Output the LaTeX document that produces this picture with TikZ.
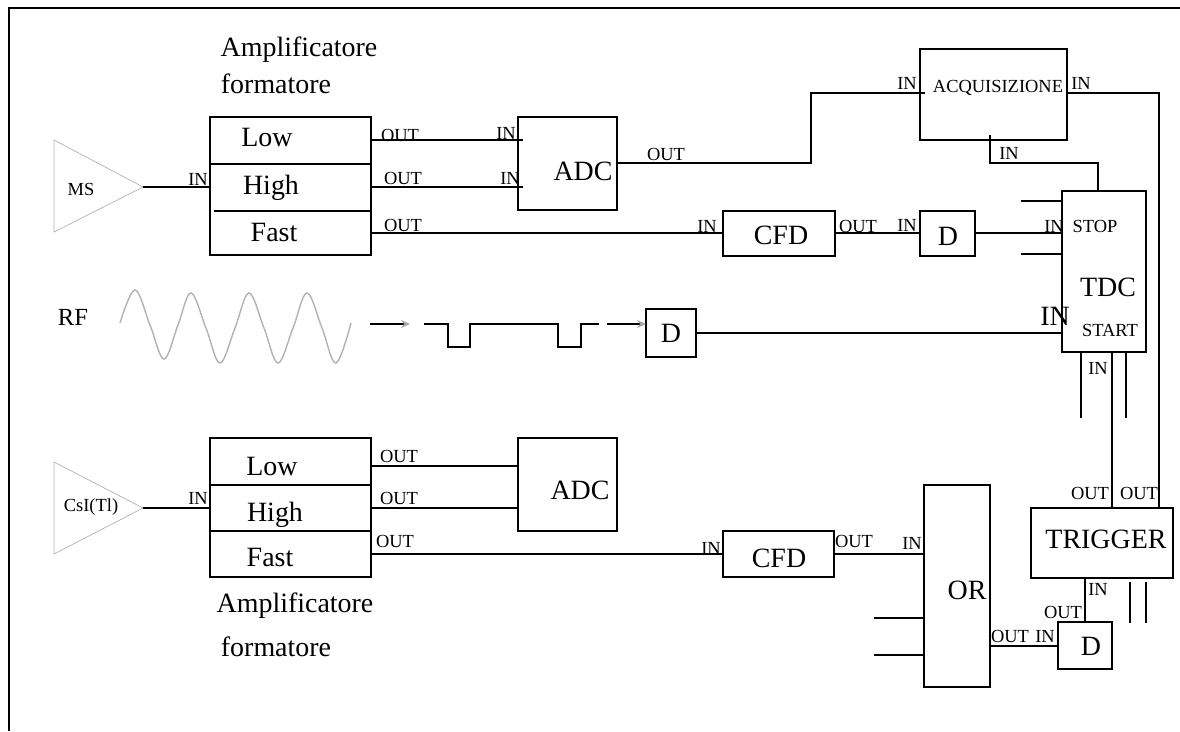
\documentclass[tikz,border=0pt]{standalone}
\usepackage{fontspec}
\setmainfont{Liberation Serif}
\usepackage{tikz}
\usetikzlibrary{arrows.meta}

\tikzset{
	wire/.style={line width=1.13pt},
	block/.style 2 args={draw,line width=1.13pt,inner sep=0pt,outer sep=0pt,minimum width=#1*0.02cm,minimum height=#2*0.02cm},
	row/.style 2 args={inner sep=0pt,outer sep=0pt,minimum width=#1*0.02cm,minimum height=#2*0.02cm},
	big/.style={inner sep=0pt,font=\fontsize{15.9}{16}\selectfont},
	small/.style={inner sep=0pt,font=\fontsize{10.5}{11}\selectfont},
	pulse/.style={wire,-{Stealth[gray!70,length=5pt,width=4.5pt]}},
}

\begin{document}
\begin{tikzpicture}[x=0.02cm,y=-0.02cm]
	\useasboundingbox (0,0) rectangle (1180,731);
	\draw [wire] (9,731) -- (9,8) -- (1180,8);

	% blocks
	\node[block={161}{138}] (ampa) at (290.5,186) {};
	\node[row={161}{47}] (lowa) at (290.5,140) {};
	\node[row={161}{47}] (higha) at (290.5,187) {};
	\node[row={161}{44}] (fasta) at (290.5,233) {};
	\node[block={99}{93}] (adca) at (567.5,163.5) {};
	\node[block={112}{45}] (cfda) at (779,233) {};
	\node[block={55}{45}] (dstop) at (947.5,233) {};
	\node[block={147}{91}] (acq) at (993.5,94.5) {};
	\node[block={84}{161}] (tdc) at (1104,271.5) {};
	\node[block={50}{48}] (dstart) at (671,333) {};
	\node[block={161}{139}] (ampb) at (290.5,507.5) {};
	\node[row={161}{47}] (lowb) at (290.5,466) {};
	\node[row={161}{46}] (highb) at (290.5,508) {};
	\node[row={161}{46}] (fastb) at (290.5,554) {};
	\node[block={99}{93}] (adcb) at (567.5,484.5) {};
	\node[block={111}{46}] (cfdb) at (778.5,554) {};
	\node[block={66}{202}] (orb) at (957,586) {};
	\node[block={142}{70}] (trig) at (1102,543) {};
	\node[block={54}{47}] (dor) at (1085,645.5) {};

	% amplifier rows
	\draw [wire] (210,164) -- (371,164);
	\draw [wire] (214,211) -- (371,211);
	\draw [wire] (210,485) -- (371,485);
	\draw [wire] (210,531) -- (371,531);

	% triangles and signal shapes
	\draw [gray!60] (54,140) -- (143,187) -- (54,232) -- cycle;
	\draw [gray!60] (54,462) -- (143,508) -- (54,554) -- cycle;
	\coordinate (mstip) at (143,187);
	\coordinate (csitip) at (143,508);
	\draw [gray!60,line width=0.8pt] plot [smooth, tension=0.6] coordinates {(120,323) (135,290) (150,325) (164,359) (178,325) (191,293) (206,328) (220,363) (235,328) (249,293) (264,328) (278,363) (293,328) (307,293) (322,328) (336,363) (351,323)};
	\coordinate (rfa) at (370,324);
	\coordinate (rfb) at (410,324);
	\coordinate (rfc) at (607,324);
	\draw [pulse] (rfa) -- (rfb);
	\draw [wire] (424,324) -- (448,324) -- (448,347) -- (470,347) -- (470,324) -- (558,324) -- (558,347) -- (581,347) -- (581,324) -- (599,324);
	\draw [pulse] (rfc) -- (dstart.west |- rfc);

	% connectors
	\draw [wire] (mstip) -- (ampa.west |- mstip);
	\draw [wire] (lowa.east) -- ([xshift=0.1cm]lowa.east -| adca.west);
	\draw [wire] (higha.east) -- ([xshift=0.1cm]higha.east -| adca.west);
	\draw [wire] (fasta.east) -- (fasta.east -| cfda.west);
	\draw [wire] (cfda.east) -- (dstop.west);
	\draw [wire] (dstop.east) -- (dstop.east -| tdc.west);
	\draw [wire] (adca.east |- 0,163) -- (811,163) -- (811,93) -- ([xshift=0.1cm]acq.west |- 0,93);
	\draw [wire] (acq.east |- 0,93) -- (1159,93) -- (1159,508);
	\draw [wire] ([yshift=0.1cm]acq.south -| 990,0) -- (990,163) -- (1098,163) -- (tdc.north -| 1098,0);
	\draw [wire] (dstart.east) -- (dstart.east -| tdc.west);
	\draw [wire] (tdc.south -| 1112,0) -- (trig.north -| 1112,0);
	\draw [wire] (csitip) -- (ampb.west |- csitip);
	\draw [wire] (lowb.east) -- (lowb.east -| adcb.west);
	\draw [wire] (highb.east) -- (highb.east -| adcb.west);
	\draw [wire] (fastb.east) -- (cfdb.west);
	\draw [wire] (cfdb.east) -- (cfdb.east -| orb.west);
	\draw [wire] (orb.east |- dor.west) -- (dor.west);
	\draw [wire] (trig.south -| 1085,0) -- (dor.north -| 1085,0);

	% open inputs
	\foreach \y in {201,254} \draw [wire] (1021,\y) -- (tdc.west |- 0,\y);
	\foreach \x in {1081,1126} \draw [wire] (tdc.south -| \x,0) -- (\x,418);
	\foreach \y in {618,655} \draw [wire] (874,\y) -- (orb.west |- 0,\y);
	\foreach \x in {1130,1146} \draw [wire] (\x,582) -- (\x,623);

	% texts
	\node[big] (ampatop) at (299,50) {Amplificatore};
	\node[big] (ampabot) at (276,84) {formatore};
	\node[big] (ampctop) at (295,606) {Amplificatore};
	\node[big] (ampcbot) at (276,647) {formatore};
	\node[big] (lowatext) at (267,137) {Low};
	\node[big] (highatext) at (271,188) {High};
	\node[big] (fastatext) at (274,232) {Fast};
	\node[big] (lowbtext) at (272,466) {Low};
	\node[big] (highbtext) at (275,515) {High};
	\node[big] (fastbtext) at (270,557) {Fast};
	\node[big] (adcatext) at (583,171) {ADC};
	\node[big] (adcbtext) at (580,490) {ADC};
	\node[big] (cfdatext) at (781,235) {CFD};
	\node[big] (cfdbtext) at (779,558) {CFD};
	\node[big] (dstoptext) at (948,236) {D};
	\node[big] (dstarttext) at (671,333) {D};
	\node[big] (dortext) at (1091,646) {D};
	\node[big] (tdctext) at (1108,287) {TDC};
	\node[big] (trigtext) at (1106,539) {TRIGGER};
	\node[big] (ortext) at (967,590) {OR};
	\node[big] (bigin) at (1055,316) {IN};
	\node[inner sep=0pt,font=\fontsize{14}{15}\selectfont] (rftext) at (73,317) {RF};

	\node[small] (mstext) at (81,189) {MS};
	\node[small] (csitext) at (91,507) {CsI(Tl)};
	\node[small] (acqtext) at (998,88) {ACQUISIZIONE};
	\node[small] (stoptext) at (1095,226) {STOP};
	\node[small] (starttext) at (1110,330) {START};

	\node[small] (ina) at (198,179) {IN};
	\node[small] (inb) at (506,133) {IN};
	\node[small] (inc) at (510,178) {IN};
	\node[small] (ind) at (707,226) {IN};
	\node[small] (ine) at (907,225) {IN};
	\node[small] (inf) at (907,83) {IN};
	\node[small] (ing) at (1081,83) {IN};
	\node[small] (inh) at (1009,153) {IN};
	\node[small] (ini) at (1054,226) {IN};
	\node[small] (inj) at (1098,368) {IN};
	\node[small] (ink) at (198,498) {IN};
	\node[small] (inl) at (711,548) {IN};
	\node[small] (inm) at (912,543) {IN};
	\node[small] (inn) at (1098,589) {IN};
	\node[small] (ino) at (1045,636) {IN};

	\node[small] (outa) at (400,135) {OUT};
	\node[small] (outb) at (403,178) {OUT};
	\node[small] (outc) at (403,225) {OUT};
	\node[small] (outd) at (666,154) {OUT};
	\node[small] (oute) at (858,226) {OUT};
	\node[small] (outf) at (399,456) {OUT};
	\node[small] (outg) at (399,498) {OUT};
	\node[small] (outh) at (395,541) {OUT};
	\node[small] (outi) at (854,541) {OUT};
	\node[small] (outj) at (1090,493) {OUT};
	\node[small] (outk) at (1139,493) {OUT};
	\node[small] (outl) at (1063,612) {OUT};
	\node[small] (outm) at (1010,636) {OUT};
\end{tikzpicture}
\end{document}
